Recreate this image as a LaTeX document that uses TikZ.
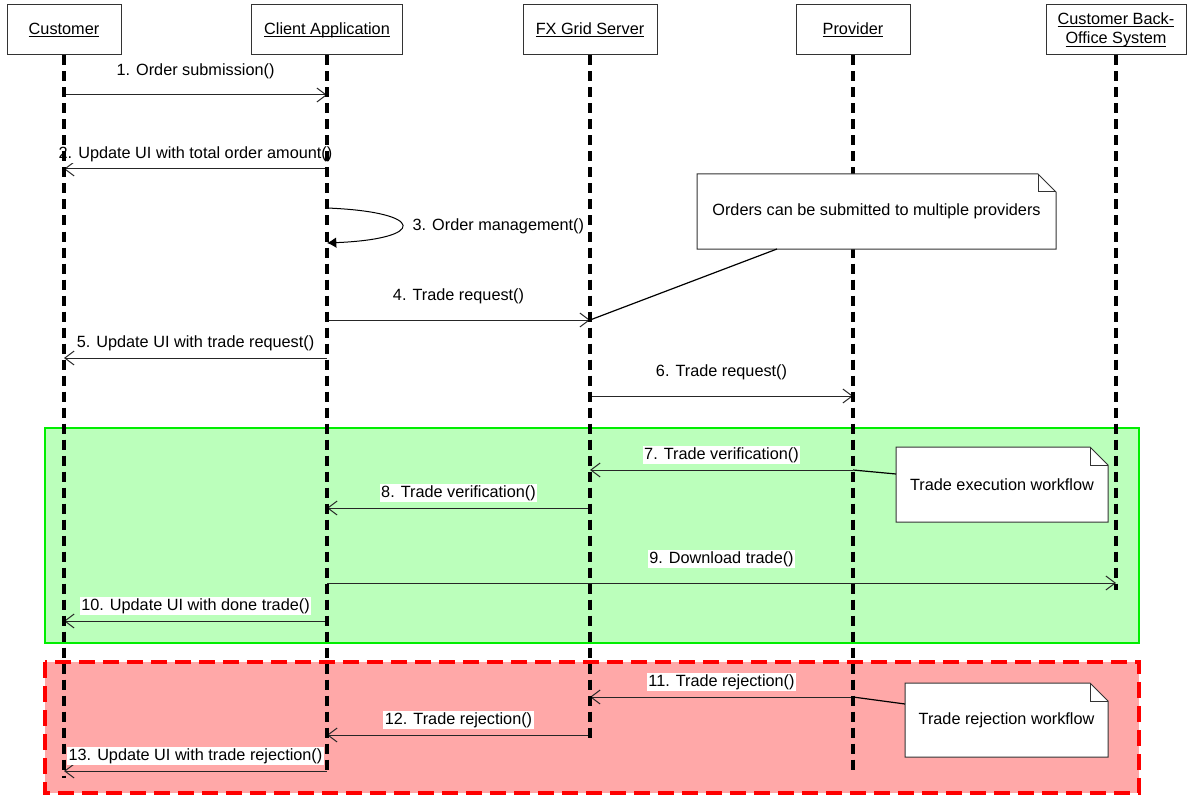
\documentclass[tikz,border=0pt]{standalone}
\usepackage{fontspec}
\setmainfont{Liberation Sans}
\usetikzlibrary{arrows.meta,calc}
\definecolor{execfill}{HTML}{BBFFBB}
\definecolor{execline}{HTML}{00EE00}
\definecolor{rejfill}{HTML}{FFA8A8}
\definecolor{rejline}{HTML}{FF0000}
\def\lblfont{\fontsize{12.2}{15}\selectfont}
\def\ulname#1{\underline{\smash{#1}\vphantom{C}}}
\def\notebox(#1)(#2,#3)(#4,#5)#6{%
  \draw[note] (#2,#3) -- ({#4-18},#3) -- (#4,{#3+18}) -- (#4,#5) -- (#2,#5) -- cycle;
  \draw[note,fill=none] ({#4-18},#3) -- ({#4-18},{#3+18}) -- (#4,{#3+18});
  \node[notetext] (#1) at ({(#2+#4)/2},{(#3+#5)/2}) {#6};}

\begin{document}
\begin{tikzpicture}[x=0.75pt,y=-0.75pt,
  actor/.style={draw=black!80, line width=0.75pt, fill=white, minimum height=37.5pt, inner sep=1pt, font=\lblfont, align=center},
  lifeline/.style={draw=black, line width=2.3pt, dash pattern=on 7.5pt off 4.5pt},
  msg/.style={draw=black!85, line width=0.75pt, -{Straight Barb[length=7pt,width=10.5pt]}},
  selfmsg/.style={draw=black, line width=0.75pt, -{Latex[length=7pt,width=8pt]}},
  lblhi/.style={midway, yshift=18pt, fill=white, inner sep=1pt, font=\lblfont},
  lbllo/.style={midway, yshift=11pt, fill=white, inner sep=1pt, font=\lblfont},
  note/.style={draw=black!80, fill=white, line width=0.75pt},
  notetext/.style={font=\lblfont, align=center},
  execzone/.style={draw=execline, fill=execfill, line width=1.6pt},
  rejzone/.style={draw=rejline, fill=rejfill, line width=2.4pt, dash pattern=on 12pt off 6pt}]
  \useasboundingbox (0,0) rectangle (1189,795);

  %%%%% ACTORS %%%%%
  \node[actor, minimum width=85.5pt] (cust) at (64,30) {\ulname{Customer}};
  \node[actor, minimum width=113pt] (app) at (327,30) {\ulname{Client Application}};
  \node[actor, minimum width=100.5pt] (fx) at (590,30) {\ulname{FX Grid Server}};
  \node[actor, minimum width=85.5pt] (prov) at (853,30) {\ulname{Provider}};
  \node[actor, minimum width=105pt] (bo) at (1116,30) {\ulname{Customer Back-}\\[-0.5pt]\ulname{Office System}};

  %%%%% ROWS %%%%%
  \foreach \r/\y in {1/95,2/169,3a/208,3b/243,4/320,5/358,6/396,7/470,8/508,9/583,10/621,11/697,12/735,13/771}
    \foreach \l in {cust,app,fx,prov,bo}
      \coordinate (\l-\r) at (\l.south |- 0,\y);
  \foreach \l/\e in {cust/778,app/770,fx/740,prov/775,bo/590}
    \coordinate (\l-end) at (\l.south |- 0,\e);

  %%%%% WORKFLOW ZONES %%%%%
  \draw[execzone] (45,428) rectangle (1139,643);
  \draw[rejzone] (45,662) rectangle (1139,793);

  %%%%% MESSAGES %%%%%
  \draw[msg] (cust-1) -- node[lblhi] {1. Order submission()} (app-1);
  \draw[msg] (app-2) -- node[lbllo] {2. Update UI with total order amount()} (cust-2);
  \draw[selfmsg] (app-3a) .. controls ($(app-3a)+(100,4)$) and ($(app-3b)+(100,-4)$) .. (app-3b);
  \node[font=\lblfont, anchor=west, inner sep=1pt] (lbl3) at (411,226) {3. Order management()};
  \draw[msg] (app-4) -- node[lblhi] {4. Trade request()} (fx-4);
  \draw[msg] (app-5) -- node[lbllo] {5. Update UI with trade request()} (cust-5);
  \draw[msg] (fx-6) -- node[lblhi] {6. Trade request()} (prov-6);
  \draw[msg] (prov-7) -- node[lbllo] {7. Trade verification()} (fx-7);
  \draw[msg] (fx-8) -- node[lbllo] {8. Trade verification()} (app-8);
  \draw[msg] (app-9) -- node[lblhi] {9. Download trade()} (bo-9);
  \draw[msg] (app-10) -- node[lbllo] {10. Update UI with done trade()} (cust-10);
  \draw[msg] (prov-11) -- node[lbllo] {11. Trade rejection()} (fx-11);
  \draw[msg] (fx-12) -- node[lbllo] {12. Trade rejection()} (app-12);
  \draw[msg] (app-13) -- node[lbllo] {13. Update UI with trade rejection()} (cust-13);

  %%%%% LIFELINES %%%%%
  \draw[lifeline] (cust.south) -- (cust-end);
  \draw[lifeline] (app.south) -- (app-end);
  \draw[lifeline] (fx.south) -- (fx-end);
  \draw[lifeline] (prov.south) -- (prov-end);
  \draw[lifeline] (bo.south) -- (bo-end);

  %%%%% NOTES %%%%%
  \notebox(multi)(697,174)(1056,249){Orders can be submitted to multiple providers}
  \notebox(exec)(896,447)(1108,522){Trade execution workflow}
  \notebox(rej)(905,683)(1108,757){Trade rejection workflow}
  \coordinate (multi-tail) at (777,249);
  \coordinate (exec-tail) at (896,474);
  \coordinate (rej-tail) at (905,704);
  \draw[line width=0.9pt] (fx-4) -- (multi-tail);
  \draw[line width=0.9pt] (prov-7) -- (exec-tail);
  \draw[line width=0.9pt] (prov-11) -- (rej-tail);
\end{tikzpicture}
\end{document}
